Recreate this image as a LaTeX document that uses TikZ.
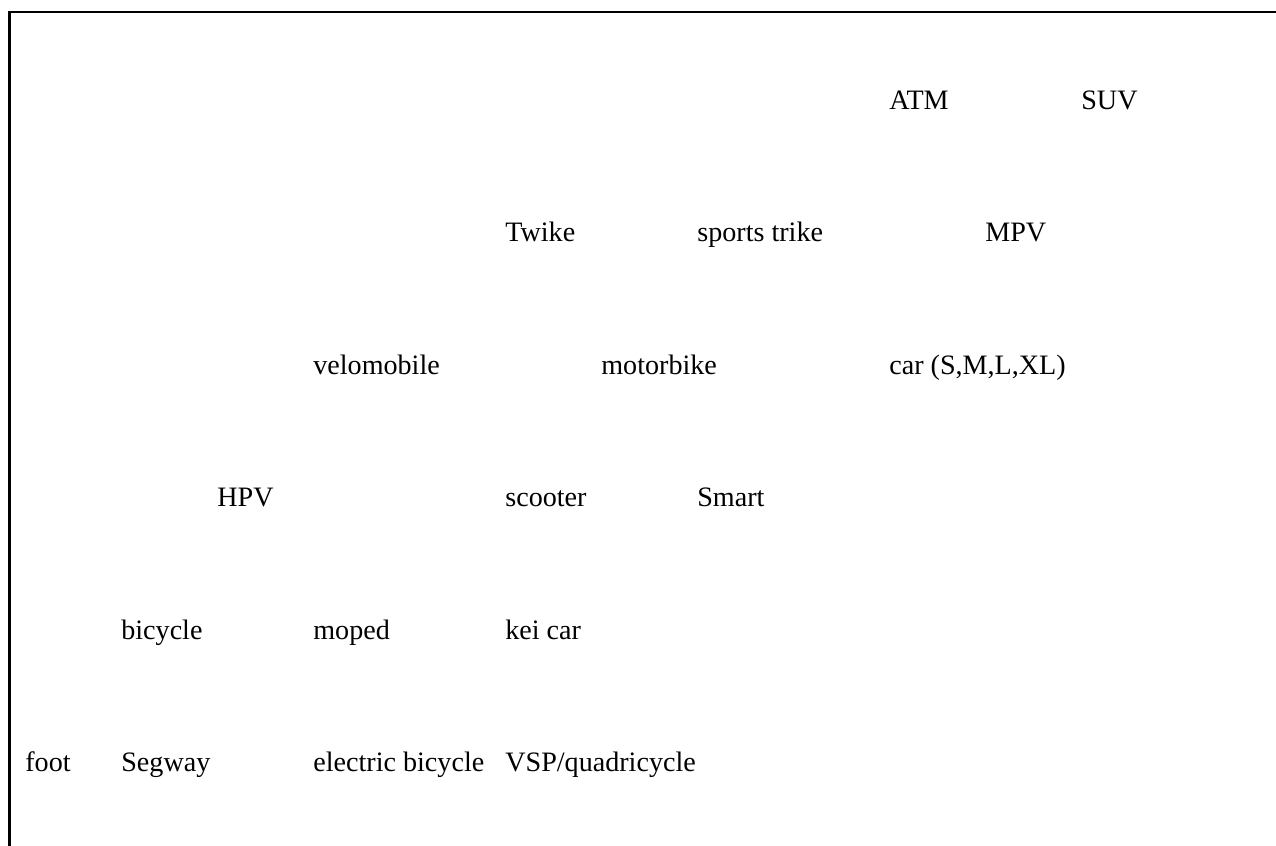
\documentclass[tikz,border=0pt]{standalone}
\usepackage{fontspec}
\setmainfont{Liberation Serif}
\usepackage{tikz}

\tikzset{
  lbl/.style={text=black,anchor=base west,inner sep=0pt,font=\fontsize{16}{19}\selectfont},
  frame/.style={black,line width=1.4pt}
}

\begin{document}
\begin{tikzpicture}[x=0.02cm,y=-0.02cm]
\useasboundingbox (0,0) rectangle (1276,846);

% frame (top and left only):
\draw[frame] (9.5,846) -- (9.5,12) -- (1276,12);

% row 1:
\path (889,109) node[lbl] (atm) {ATM};
\path (1081,109) node[lbl] (suv) {SUV};
% row 2:
\path (505,241) node[lbl] (twike) {Twike};
\path (697,241) node[lbl] (trike) {sports trike};
\path (985,241) node[lbl] (mpv) {MPV};
% row 3:
\path (313,374) node[lbl] (velo) {velomobile};
\path (601,374) node[lbl] (motorbike) {motorbike};
\path (889,374) node[lbl] (car) {car (S,M,L,XL)};
% row 4:
\path (217,506) node[lbl] (hpv) {HPV};
\path (505,506) node[lbl] (scooter) {scooter};
\path (697,506) node[lbl] (smart) {Smart};
% row 5:
\path (121,639) node[lbl] (bicycle) {bicycle};
\path (313,639) node[lbl] (moped) {moped};
\path (505,639) node[lbl] (kei) {kei car};
% row 6:
\path (25,771) node[lbl] (foot) {foot};
\path (121,771) node[lbl] (segway) {Segway};
\path (313,771) node[lbl] (ebike) {electric bicycle};
\path (505,771) node[lbl] (vsp) {VSP/quadricycle};

\end{tikzpicture}
\end{document}
